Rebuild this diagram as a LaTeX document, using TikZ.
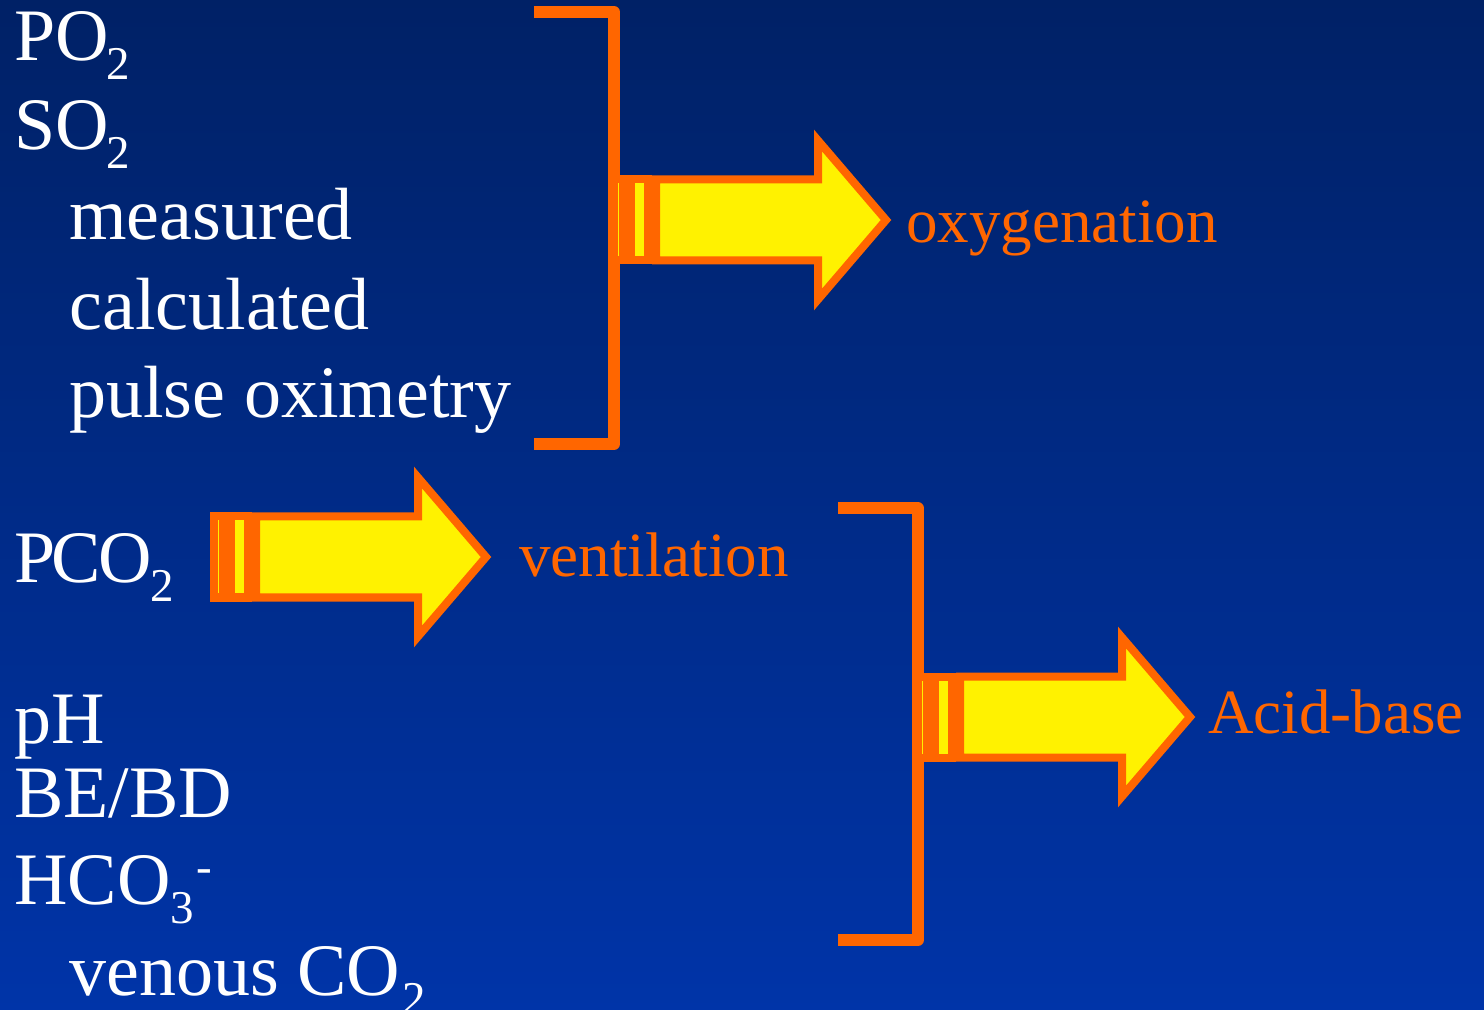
\documentclass[tikz,border=0pt]{standalone}
\usepackage{fontspec}
\setmainfont{Liberation Serif}
\usepackage{xcolor}
\definecolor{orng}{RGB}{255,102,0}
\definecolor{bgtop}{RGB}{0,33,102}
\definecolor{bgbot}{RGB}{0,52,168}
\newcommand\sbs[1]{\raisebox{-9.5pt}{\fontsize{23.5}{24}\selectfont #1}}

\begin{document}
\begin{tikzpicture}[x=.5pt, y=-.5pt,
 lbl/.style={anchor=base west, inner sep=0, text=white, font=\fontsize{37}{40}\selectfont},
 res/.style={anchor=base west, inner sep=0, text=orng, font=\fontsize{31.5}{34}\selectfont},
 bracket/.style={draw=orng, line width=6pt, line join=round},
 piece/.style={draw=orng, fill=yellow, line width=4pt}]
\shade[top color=bgtop, bottom color=bgbot] (0,0) rectangle (1484,1010);
\useasboundingbox (0,0) rectangle (1484,1010);
% brackets
\draw[bracket] (534,12) -- (614,12) -- (614,444) -- (534,444);
\draw[bracket] (838,508.5) -- (918,508.5) -- (918,940) -- (838,940);
% striped arrows
\foreach \x/\y in {610/220, 210/557, 914/717} {
 \draw[piece] (\x+4,\y-40.5) rectangle (\x+13,\y+40.5);
 \draw[piece] (\x+21,\y-40.5) rectangle (\x+38,\y+40.5);
 \draw[piece, miter limit=10] (\x+46,\y-40.5) -- (\x+208,\y-40.5) -- (\x+208,\y-79.5) -- (\x+276,\y)
   -- (\x+208,\y+79.5) -- (\x+208,\y+40.5) -- (\x+46,\y+40.5) -- cycle;
}
% left column
\node[lbl] (po2) at (14,61) {PO\kern-1pt\sbs{2}};
\node[lbl] (so2) at (14,150) {SO\kern-1pt\sbs{2}};
\node[lbl] (meas) at (69,240) {measured};
\node[lbl] (calc) at (69,330) {calculated};
\node[lbl] (pulse) at (69,418) {pulse oximetry};
\node[lbl] (pco2) at (14,582) {P\kern-2pt C\kern-1pt O\kern-1pt\sbs{2}};
\node[lbl] (ph) at (14,743) {pH};
\node[lbl] (bebd) at (14,817) {BE/BD};
\node[lbl] (hco3) at (14,904) {HCO\sbs{3}\kern1pt\raisebox{11pt}{\fontsize{23.5}{24}\selectfont -}};
\node[lbl] (venco2) at (69,995) {venous CO\kern1pt\sbs{2}};
% results
\node[res] (oxy) at (906,243) {oxygenation};
\node[res] (vent) at (519,576) {ventilation};
\node[res] (acid) at (1208,733) {Acid-base};
\end{tikzpicture}
\end{document}
